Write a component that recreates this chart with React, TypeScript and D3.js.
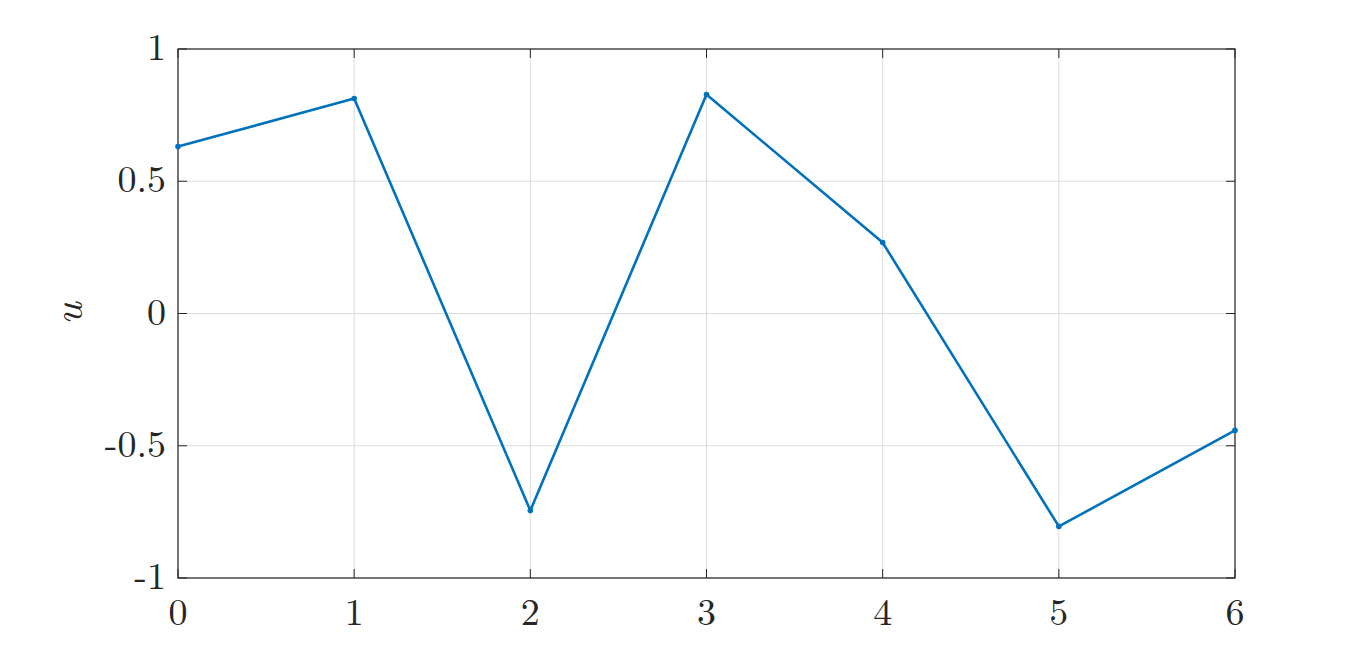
import React from "react";
import * as d3 from "d3";

const xValues = [0, 1, 2, 3, 4, 5, 6];
const uValues = [0.631, 0.813, -0.745, 0.828, 0.268, -0.805, -0.442];
const xTicks = [0, 1, 2, 3, 4, 5, 6];
const yTicks = [-1, -0.5, 0, 0.5, 1];

export default function App() {
  const W = 1366, H = 651;
  const left = 178, right = 1235, top = 49, bottom = 578;
  const x = d3.scaleLinear().domain([0, 6]).range([left, right]);
  const y = d3.scaleLinear().domain([-1, 1]).range([bottom, top]);
  const line = d3.line<number>().x((_, i) => x(xValues[i])).y((d) => y(d));
  const font = "'Latin Modern Roman', 'CMU Serif', 'Liberation Serif', 'DejaVu Serif', serif";
  const fmt = (v: number) => String(v);
  return (
    <svg width={W} height={H} style={{ position: "absolute", left: 0, top: 0, background: "#fff" }}>
      <rect x={0} y={0} width={W} height={H} fill="#fff" />
      {xTicks.map((t) => (
        <line key={"gx" + t} x1={x(t)} x2={x(t)} y1={top} y2={bottom} stroke="#dcdcdc" strokeWidth={1} />
      ))}
      {yTicks.map((t) => (
        <line key={"gy" + t} x1={left} x2={right} y1={y(t)} y2={y(t)} stroke="#dcdcdc" strokeWidth={1} />
      ))}
      {xTicks.map((t) => (
        <g key={"tx" + t}>
          <line x1={x(t)} x2={x(t)} y1={bottom} y2={bottom - 9} stroke="#262626" strokeWidth={1} />
          <line x1={x(t)} x2={x(t)} y1={top} y2={top + 9} stroke="#262626" strokeWidth={1} />
          <text x={x(t)} y={625} textAnchor="middle" fontFamily={font} fontSize={38} fill="#262626">{fmt(t)}</text>
        </g>
      ))}
      {yTicks.map((t) => (
        <g key={"ty" + t}>
          <line x1={left} x2={left + 9} y1={y(t)} y2={y(t)} stroke="#262626" strokeWidth={1} />
          <line x1={right} x2={right - 9} y1={y(t)} y2={y(t)} stroke="#262626" strokeWidth={1} />
          <text x={166} y={y(t) + 11} textAnchor="end" fontFamily={font} fontSize={38} fill="#262626">{fmt(t)}</text>
        </g>
      ))}
      <rect x={left} y={top} width={right - left} height={bottom - top} fill="none" stroke="#262626" strokeWidth={1.2} />
      <path d={line(uValues) || ""} fill="none" stroke="#0072BD" strokeWidth={2.6} strokeLinejoin="round" />
      {uValues.map((v, i) => (
        <circle key={"m" + i} cx={x(xValues[i])} cy={y(v)} r={2.8} fill="#0072BD" />
      ))}
      <text transform={`translate(82, ${(top + bottom) / 2}) rotate(-90)`} textAnchor="middle" fontFamily={font} fontStyle="italic" fontSize={42} fill="#262626">u</text>
    </svg>
  );
}
